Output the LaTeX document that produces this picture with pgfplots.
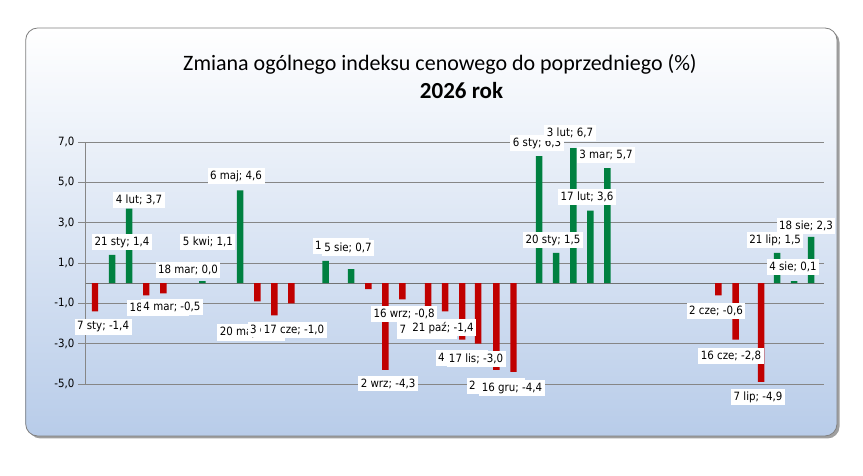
\documentclass[border=0pt]{standalone}
\usepackage{fontspec}
\setmainfont{Carlito}
\newfontfamily\labfont[FakeStretch=0.9]{DejaVu Sans}
\usepackage{pgfplots}
\pgfplotsset{compat=1.18}
\usepackage{pgfplotstable}
\definecolor{bargreen}{RGB}{0,128,64}
\definecolor{barred}{RGB}{192,0,0}
\definecolor{gridgray}{RGB}{134,134,134}
\definecolor{bgmid}{RGB}{212,226,244}
\definecolor{bgbot}{RGB}{184,204,233}
\definecolor{framegray}{RGB}{128,128,128}
\tikzset{lab/.style={anchor=center, fill=white, text=black, inner xsep=2.5pt, inner ysep=2.8pt,
  font=\labfont\fontsize{11.4bp}{13bp}\selectfont}}

% x = day of year + 10 (2026: 11..375, 2027: 376..), value
\pgfplotstableread{
x y
31 1.4
45 3.7
105 0.1
136 4.6
206 1.1
227 0.7
381 6.3
395 1.5
409 6.7
423 3.6
437 5.7
576 1.5
590 0.1
604 2.3
}\posdata
\pgfplotstableread{
x y
17 -1.4
59 -0.6
73 -0.5
150 -0.9
164 -1.6
178 -1.0
241 -0.3
255 -4.3
269 -0.8
290 -1.5
304 -1.4
318 -2.8
331 -3.0
346 -4.3
360 -4.4
528 -0.6
542 -2.8
563 -4.9
}\negdata

\begin{document}
\begin{tikzpicture}
\useasboundingbox (0,0) rectangle (863bp,476bp);
\fill[gray!75, rounded corners=12bp] (28.5bp,37.5bp) rectangle (839.5bp,445.5bp);
\shade[top color=white, middle color=bgmid, bottom color=bgbot, rounded corners=12bp, draw=framegray, line width=0.8bp]
  (25.7bp,40bp) rectangle (837bp,448bp);
\node[anchor=base, font=\fontsize{22bp}{26bp}\selectfont] at (440bp,405bp) {Zmiana ogólnego indeksu cenowego do poprzedniego (\%)};
\node[anchor=base, font=\fontsize{23bp}{27bp}\selectfont\bfseries] at (461.5bp,377bp) {2026 rok};
\begin{axis}[
  at={(85.32pt,92.34pt)}, anchor=south west,
  scale only axis, width=741.77pt, height=242.91pt,
  xmin=8.8, xmax=614.5, ymin=-5, ymax=7,
  axis x line*=middle, axis y line*=left,
  xtick=\empty,
  ytick={-5,-3,-1,1,3,5,7},
  yticklabels={{-5,0},{-3,0},{-1,0},{1,0},{3,0},{5,0},{7,0}},
  ymajorgrids,
  major grid style={gridgray, line width=0.9pt},
  x axis line style={gridgray!85!black, line width=1pt},
  y axis line style={gridgray, line width=0.9pt},
  ytick style={gridgray, line width=0.9pt},
  tick align=outside, major tick length=7pt,
  yticklabel style={font=\labfont\fontsize{11.4bp}{13bp}\selectfont},
  ybar, bar width=6.5pt, bar shift=0pt,
  clip=false,
]
\addplot[fill=bargreen, draw=none] table {\posdata};
\addplot[fill=barred, draw=none] table {\negdata};
\node[lab] at (axis cs:23.6,-2.17) {7 sty; -1,4};
\node[lab] at (axis cs:39.1,2.04) {21 sty; 1,4};
\node[lab] at (axis cs:53.1,4.12) {4 lut; 3,7};
\node[lab] at (axis cs:68.6,-1.23) {18 lut; -0,6};
\node[lab] at (axis cs:80.1,-1.18) {4 mar; -0,5};
\node[lab] at (axis cs:93.2,0.65) {18 mar; 0,0};
\node[lab] at (axis cs:109.6,2.04) {5 kwi; 1,1};
\node[lab] at (axis cs:132.6,5.31) {6 maj; 4,6};
\node[lab] at (axis cs:144.8,-2.44) {20 maj; -0,9};
\node[lab] at (axis cs:166.2,-2.30) {3 cze; -1,6};
\node[lab] at (axis cs:180.1,-2.33) {17 cze; -1,0};
\node[lab] at (axis cs:218.6,1.84) {15 lip; 1,1};
\node[lab] at (axis cs:224.4,1.74) {5 sie; 0,7};
\node[lab] at (axis cs:270.3,-1.55) {19 sie; -0,3};
\node[lab] at (axis cs:257.2,-4.99) {2 wrz; -4,3};
\node[lab] at (axis cs:270.3,-1.53) {16 wrz; -0,8};
\node[lab] at (axis cs:289.1,-2.32) {7 paź; -1,5};
\node[lab] at (axis cs:302.2,-2.22) {21 paź; -1,4};
\node[lab] at (axis cs:317.8,-3.71) {4 lis; -2,8};
\node[lab] at (axis cs:329.3,-3.76) {17 lis; -3,0};
\node[lab] at (axis cs:345.7,-5.10) {2 gru; -4,3};
\node[lab] at (axis cs:358.8,-5.20) {16 gru; -4,4};
\node[lab] at (axis cs:379.3,6.95) {6 sty; 6,3};
\node[lab] at (axis cs:392.4,2.14) {20 sty; 1,5};
\node[lab] at (axis cs:406.3,7.46) {3 lut; 6,7};
\node[lab] at (axis cs:420.3,4.27) {17 lut; 3,6};
\node[lab] at (axis cs:435.9,6.36) {3 mar; 5,7};
\node[lab] at (axis cs:526.0,-1.38) {2 cze; -0,6};
\node[lab] at (axis cs:538.3,-3.61) {16 cze; -2,8};
\node[lab] at (axis cs:560.4,-5.64) {7 lip; -4,9};
\node[lab] at (axis cs:574.4,2.14) {21 lip; 1,5};
\node[lab] at (axis cs:589.1,0.80) {4 sie; 0,1};
\node[lab] at (axis cs:599.8,2.84) {18 sie; 2,3};
\end{axis}
\end{tikzpicture}
\end{document}
